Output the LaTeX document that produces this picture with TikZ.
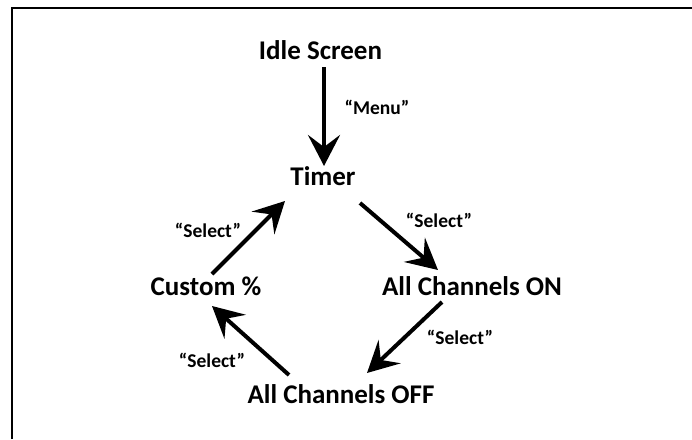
\documentclass[tikz,border=0pt]{standalone}
\usepackage{fontspec}
\setmainfont{Carlito}
\usetikzlibrary{arrows.meta,calc}
\tikzset{
  state/.style={inner sep=0pt, anchor=base, font=\bfseries\fontsize{27}{32}\selectfont},
  lbl/.style={inner sep=0pt, font=\bfseries\fontsize{19.5}{23}\selectfont},
  arr/.style={line width=4pt, -{Stealth[length=31pt,width=32pt,inset=12pt]}},
  frame/.style={line width=2pt}
}
\begin{document}
\begin{tikzpicture}[x=1pt,y=-1pt]
\useasboundingbox (0,0) rectangle (692,439);
\draw[frame] (12,439) -- (12,8) -- (692,8);
\node[state] (idle) at (320.5,59.5) {Idle Screen};
\node[state] (timer) at (323,185) {Timer};
\node[state] (custom) at (206,295) {Custom \%};
\node[state] (on) at (472,295) {All Channels ON};
\node[state] (off) at (341,403) {All Channels OFF};
\draw[arr] ($(idle.base)+(3.5,7.5)$) -- ($(timer.base)+(1,-19)$);
\draw[arr] ($(timer.base)+(37,18)$) -- ($(on.base)+(-34,-25)$);
\draw[arr] ($(on.base)+(-30,7)$) -- ($(off.base)+(26,-30)$);
\draw[arr] ($(off.base)+(-52,-28)$) -- ($(custom.base)+(6,11)$);
\draw[arr] ($(custom.base)+(6,-21)$) -- ($(timer.base)+(-38,16)$);
\node[lbl] (l1) at (377,107) {“Menu”};
\node[lbl] (l2) at (439,220) {“Select”};
\node[lbl] (l3) at (460,337) {“Select”};
\node[lbl] (l4) at (212,360) {“Select”};
\node[lbl] (l5) at (208,230) {“Select”};
\end{tikzpicture}
\end{document}
